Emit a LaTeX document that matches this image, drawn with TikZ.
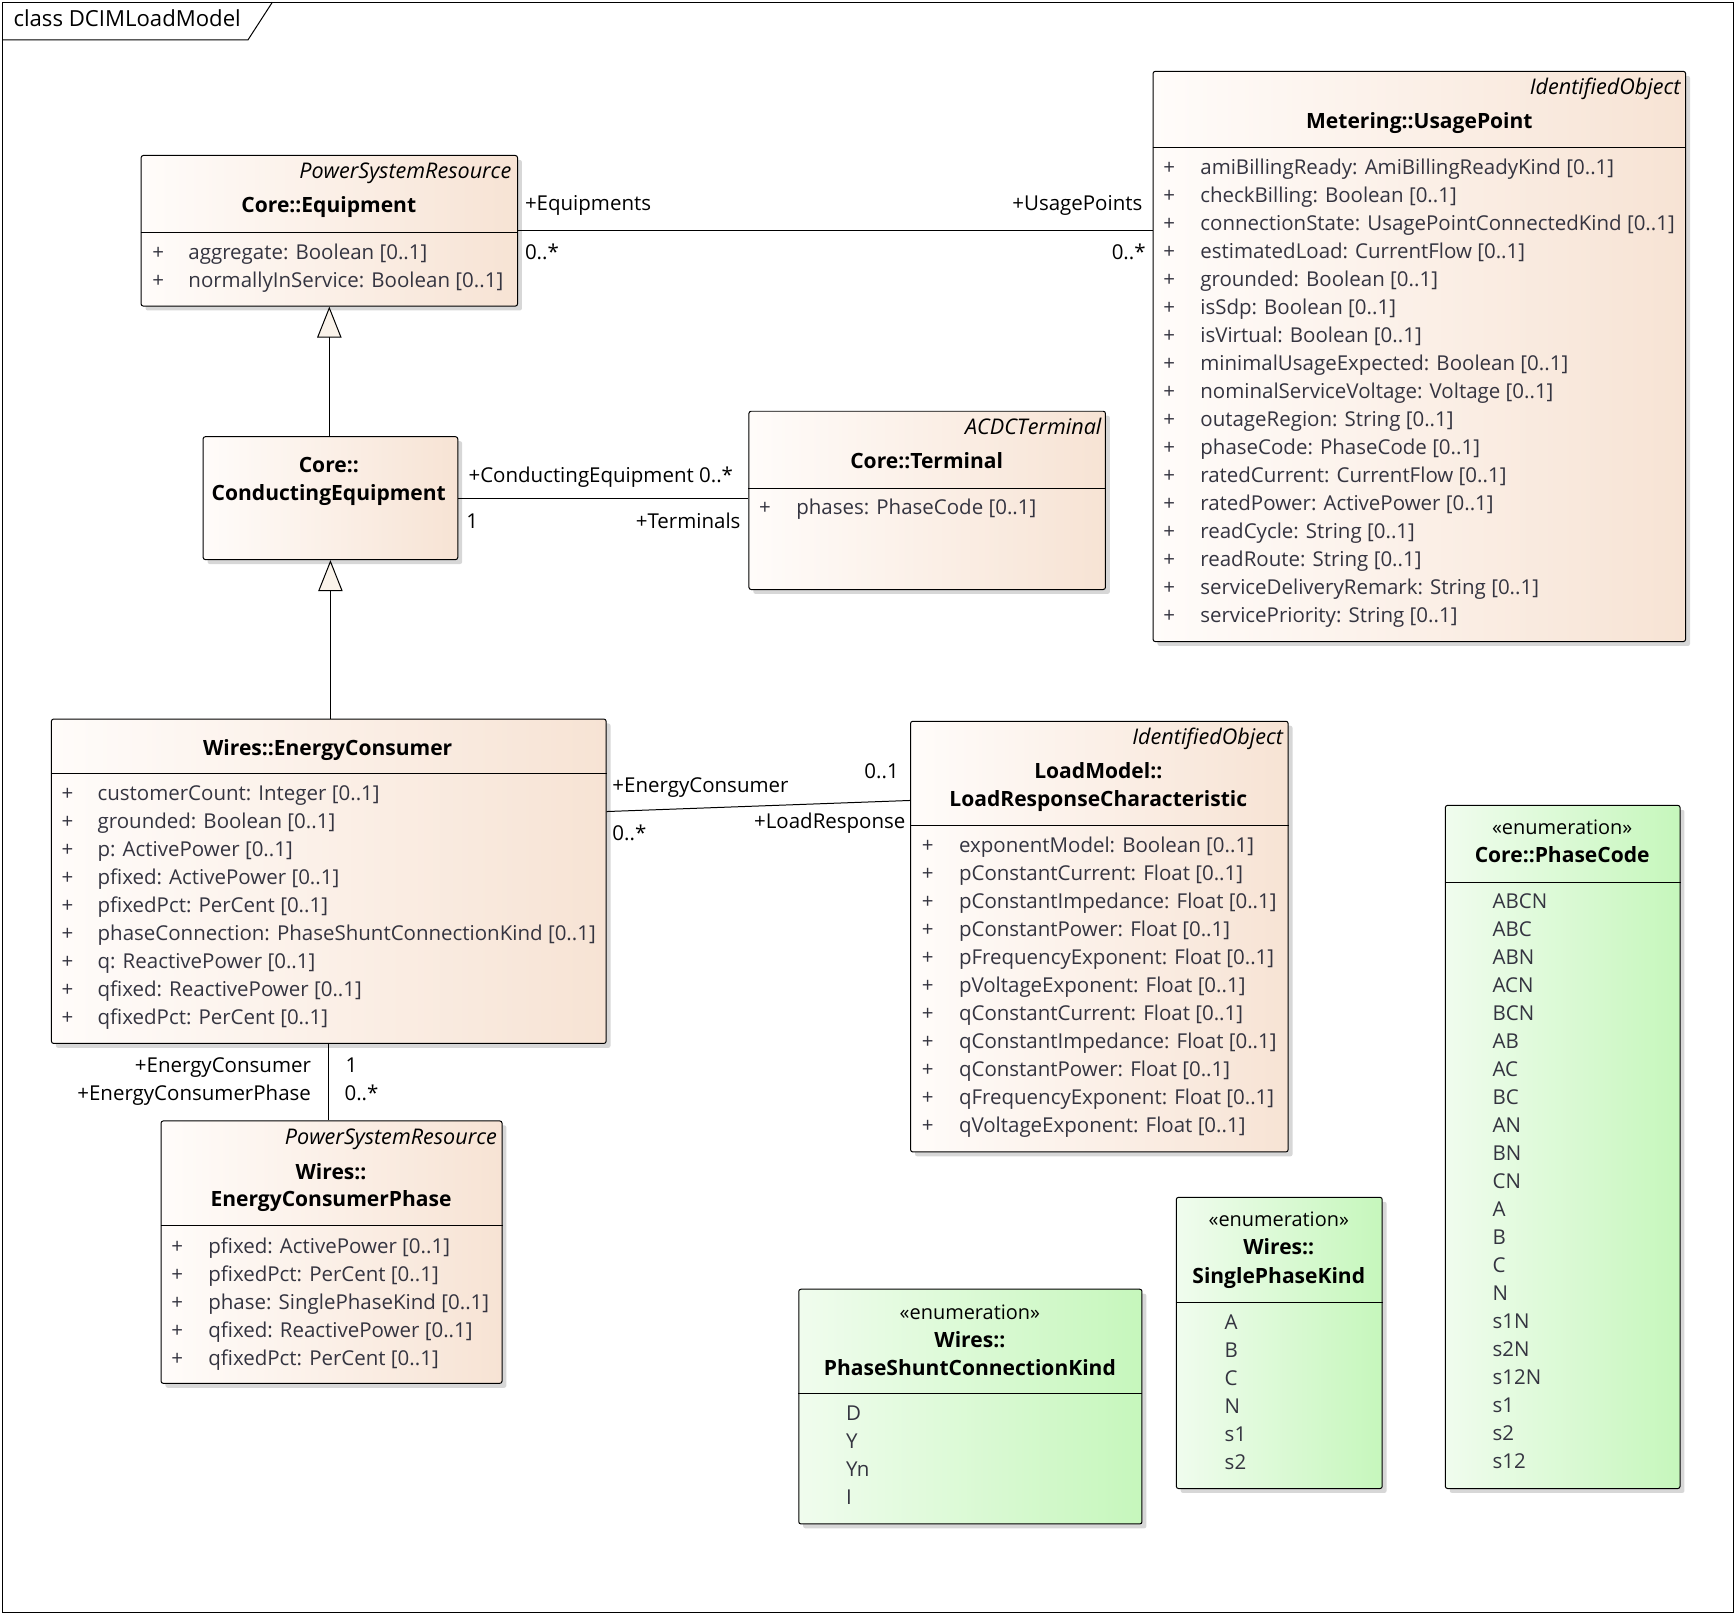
\documentclass[tikz,border=0pt]{standalone}
\usepackage{fontspec}
\setmainfont{Open Sans}
\usepackage{xcolor}
\usepackage{tikz}
\usetikzlibrary{arrows.meta,positioning,shadows}
\definecolor{umlPeach}{RGB}{247,227,212}
\definecolor{umlPeachLight}{RGB}{255,252,250}
\definecolor{umlGreen}{RGB}{198,247,188}
\definecolor{umlGreenLight}{RGB}{240,252,238}
\definecolor{umlText}{RGB}{52,52,64}
\definecolor{umlTip}{RGB}{250,243,234}

\tikzset{
  classBox/.style={draw, line width=0.9pt, rounded corners=2pt, anchor=north west, inner sep=0pt,
    left color=umlPeachLight, right color=umlPeach,
    drop shadow={shadow xshift=4pt, shadow yshift=-4pt, fill=black!35, opacity=0.45}},
  enumBox/.style={classBox, left color=umlGreenLight, right color=umlGreen},
  sepLine/.style={line width=0.9pt},
  stereo/.style={anchor=base east, inner sep=0pt, font=\fontsize{19.5}{23}\selectfont\itshape},
  clsName/.style={anchor=base, inner sep=0pt, font=\fontsize{19}{23}\selectfont\bfseries},
  enumStereo/.style={anchor=base, inner sep=0pt, font=\fontsize{18}{22}\selectfont},
  attrSign/.style={anchor=base, inner sep=0pt, text=umlText},
  attrText/.style={anchor=base west, inner sep=0pt, text=umlText},
  roleL/.style={anchor=base west, inner sep=0pt},
  roleR/.style={anchor=base east, inner sep=0pt},
  assoc/.style={line width=0.9pt},
  genLine/.style={line width=0.9pt, -{Triangle[length=28pt, width=22pt, fill=umlTip]}}
}

\begin{document}
\begin{tikzpicture}[x=1pt, y=-1pt, font=\fontsize{18.5}{22}\selectfont]
\useasboundingbox (0,0) rectangle (1568,1458);
% frame
\draw[line width=0.9pt] (2,2) rectangle (1566,1456);
\draw[line width=0.9pt] (2,36) -- (224,36) -- (246,2);
\node[roleL, font=\fontsize{20}{24}\selectfont] (frameTitle) at (12,24) {class DCIMLoadModel};

% class boxes
\node[classBox, minimum width=340, minimum height=136] (equip) at (127,140) {};
\node[classBox, minimum width=481, minimum height=515] (usage) at (1041,64) {};
\node[classBox, minimum width=322, minimum height=161] (term) at (676,371) {};
\node[classBox, minimum width=230, minimum height=111] (condeq) at (183,394) {};
\node[classBox, minimum width=501, minimum height=293] (ec) at (46,649) {};
\node[classBox, minimum width=341, minimum height=389] (lrc) at (822,651) {};
\node[classBox, minimum width=308, minimum height=237] (ecp) at (145,1012) {};
\node[enumBox, minimum width=310, minimum height=212] (pskind) at (721,1164) {};
\node[enumBox, minimum width=186, minimum height=263] (spkind) at (1062,1081) {};
\node[enumBox, minimum width=212, minimum height=617] (pcode) at (1305,727) {};

% compartment lines
\draw[sepLine] ([yshift=-70]equip.north west) -- ([yshift=-70]equip.north east);
\draw[sepLine] ([yshift=-69]usage.north west) -- ([yshift=-69]usage.north east);
\draw[sepLine] ([yshift=-70]term.north west) -- ([yshift=-70]term.north east);
\draw[sepLine] ([yshift=-50]ec.north west) -- ([yshift=-50]ec.north east);
\draw[sepLine] ([yshift=-95]lrc.north west) -- ([yshift=-95]lrc.north east);
\draw[sepLine] ([yshift=-95]ecp.north west) -- ([yshift=-95]ecp.north east);
\draw[sepLine] ([yshift=-95]pskind.north west) -- ([yshift=-95]pskind.north east);
\draw[sepLine] ([yshift=-95]spkind.north west) -- ([yshift=-95]spkind.north east);
\draw[sepLine] ([yshift=-70]pcode.north west) -- ([yshift=-70]pcode.north east);

% headers
\node[stereo] (equipS) at (462,161) {PowerSystemResource};
\node[clsName] (equipN) at (297,192) {Core::Equipment};
\node[stereo] (usageS) at (1518,85) {IdentifiedObject};
\node[clsName] (usageN) at (1282,116) {Metering::UsagePoint};
\node[stereo] (termS) at (995,392) {ACDCTerminal};
\node[clsName] (termN) at (837,423) {Core::Terminal};
\node[clsName] (condeqN1) at (297,427) {Core::};
\node[clsName] (condeqN2) at (297,452) {ConductingEquipment};
\node[clsName] (ecN) at (296,682) {Wires::EnergyConsumer};
\node[stereo] (lrcS) at (1159,672) {IdentifiedObject};
\node[clsName] (lrcN1) at (992,703) {LoadModel::};
\node[clsName] (lrcN2) at (992,728) {LoadResponseCharacteristic};
\node[stereo] (ecpS) at (449,1034) {PowerSystemResource};
\node[clsName] (ecpN1) at (299,1065) {Wires::};
\node[clsName] (ecpN2) at (299,1090) {EnergyConsumerPhase};
\node[enumStereo] (pskindS) at (876,1192) {«enumeration»};
\node[clsName] (pskindN1) at (876,1217) {Wires::};
\node[clsName] (pskindN2) at (876,1242) {PhaseShuntConnectionKind};
\node[enumStereo] (spkindS) at (1155,1108) {«enumeration»};
\node[clsName] (spkindN1) at (1155,1133) {Wires::};
\node[clsName] (spkindN2) at (1155,1159) {SinglePhaseKind};
\node[enumStereo] (pcodeS) at (1411,754) {«enumeration»};
\node[clsName] (pcodeN) at (1411,779) {Core::PhaseCode};

% attributes
\foreach \a [count=\i from 0] in {aggregate: Boolean [0..1], normallyInService: Boolean [0..1]} {
  \node[attrSign] (equipP\i) at (143,234+25.25*\i) {+};
  \node[attrText] (equipA\i) at (170,234+25.25*\i) {\a};
}
\foreach \a [count=\i from 0] in {amiBillingReady: AmiBillingReadyKind [0..1], checkBilling: Boolean [0..1],
  connectionState: UsagePointConnectedKind [0..1], estimatedLoad: CurrentFlow [0..1], grounded: Boolean [0..1],
  isSdp: Boolean [0..1], isVirtual: Boolean [0..1], minimalUsageExpected: Boolean [0..1],
  nominalServiceVoltage: Voltage [0..1], outageRegion: String [0..1], phaseCode: PhaseCode [0..1],
  ratedCurrent: CurrentFlow [0..1], ratedPower: ActivePower [0..1], readCycle: String [0..1],
  readRoute: String [0..1], serviceDeliveryRemark: String [0..1], servicePriority: String [0..1]} {
  \node[attrSign] (usageP\i) at (1056,158+25.25*\i) {+};
  \node[attrText] (usageA\i) at (1084,158+25.25*\i) {\a};
}
\node[attrSign] (termP0) at (691,465) {+};
\node[attrText] (termA0) at (719,465) {phases: PhaseCode [0..1]};
\foreach \a [count=\i from 0] in {customerCount: Integer [0..1], grounded: Boolean [0..1], p: ActivePower [0..1],
  pfixed: ActivePower [0..1], pfixedPct: PerCent [0..1], phaseConnection: PhaseShuntConnectionKind [0..1],
  q: ReactivePower [0..1], qfixed: ReactivePower [0..1], qfixedPct: PerCent [0..1]} {
  \node[attrSign] (ecP\i) at (61,723+25.25*\i) {+};
  \node[attrText] (ecA\i) at (88,723+25.25*\i) {\a};
}
\foreach \a [count=\i from 0] in {exponentModel: Boolean [0..1], pConstantCurrent: Float [0..1],
  pConstantImpedance: Float [0..1], pConstantPower: Float [0..1], pFrequencyExponent: Float [0..1],
  pVoltageExponent: Float [0..1], qConstantCurrent: Float [0..1], qConstantImpedance: Float [0..1],
  qConstantPower: Float [0..1], qFrequencyExponent: Float [0..1], qVoltageExponent: Float [0..1]} {
  \node[attrSign] (lrcP\i) at (838,770+25.3*\i) {+};
  \node[attrText] (lrcA\i) at (866,770+25.3*\i) {\a};
}
\foreach \a [count=\i from 0] in {pfixed: ActivePower [0..1], pfixedPct: PerCent [0..1],
  phase: SinglePhaseKind [0..1], qfixed: ReactivePower [0..1], qfixedPct: PerCent [0..1]} {
  \node[attrSign] (ecpP\i) at (160,1132+25.25*\i) {+};
  \node[attrText] (ecpA\i) at (188,1132+25.25*\i) {\a};
}

% enumeration literals
\foreach \a [count=\i from 0] in {D,Y,Yn,I}
  \node[attrText] (pskindL\i) at (764,1283+25.25*\i) {\a};
\foreach \a [count=\i from 0] in {A,B,C,N,s1,s2}
  \node[attrText] (spkindL\i) at (1106,1201+25.25*\i) {\a};
\foreach \a [count=\i from 0] in {ABCN,ABC,ABN,ACN,BCN,AB,AC,BC,AN,BN,CN,A,B,C,N,s1N,s2N,s12N,s1,s2,s12}
  \node[attrText] (pcodeL\i) at (1348,821+25.25*\i) {\a};

% generalizations
\draw[genLine] (equip.south |- condeq.north) -- (equip.south);
\draw[genLine] (condeq.south |- ec.north) -- (condeq.south);

% associations
\draw[assoc] (equip.east) -- (equip.east -| usage.west);
\node[roleL] (eqRole) at (474,190) {+Equipments};
\node[roleL] (eqMult) at (474,234) {0..*};
\node[roleR] (upRole) at (1032,190) {+UsagePoints};
\node[roleR] (upMult) at (1035,234) {0..*};

\draw[assoc] (condeq.east) -- (condeq.east -| term.west);
\node[roleL] (ceRole) at (423,436) {+ConductingEquipment 0..*};
\node[roleL] (ceMult) at (421,477) {1};
\node[roleR] (tRole) at (669,477) {+Terminals};

\draw[assoc] ([yshift=-84]ec.north east) -- ([yshift=-72]lrc.north west);
\node[roleL] (ecRole) at (553,716) {+EnergyConsumer};
\node[roleL] (ecMult) at (553,759) {0..*};
\node[roleR] (lrMult) at (812,703) {0..1};
\node[roleR] (lrRole) at (818,748) {+LoadResponse};

\draw[assoc] (ec.south) -- (ec.south |- ecp.north);
\node[roleR] (ecpRole1) at (281,969) {+EnergyConsumer};
\node[roleR] (ecpRole2) at (281,994) {+EnergyConsumerPhase};
\node[roleL] (ecpMult1) at (312,969) {1};
\node[roleL] (ecpMult2) at (311,994) {0..*};
\end{tikzpicture}
\end{document}
